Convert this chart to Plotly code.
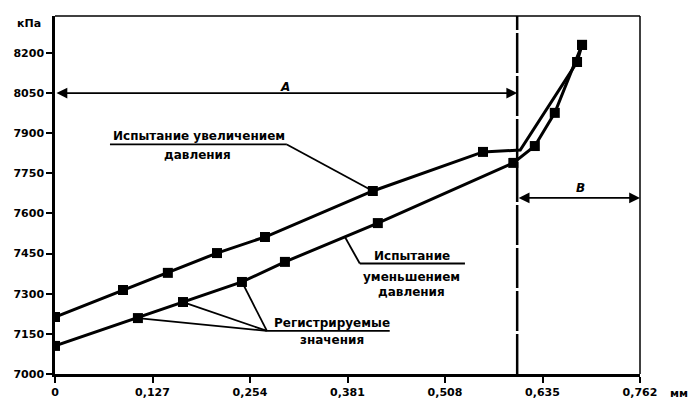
import plotly.graph_objects as go

# --- data ---
inc_x = [0.0, 0.0886, 0.147, 0.211, 0.2735, 0.414, 0.5575, 0.606, 0.680, 0.6865]
inc_y = [7213, 7314, 7378, 7452, 7512, 7684, 7830, 7837, 8166, 8230]
inc_marker = [True, True, True, True, True, True, True, False, True, True]

dec_x = [0.6865, 0.651, 0.625, 0.597, 0.4205, 0.2995, 0.2435, 0.1667, 0.108, 0.0]
dec_y = [8230, 7976, 7852, 7789, 7564, 7419, 7344, 7269, 7209, 7105]

x_ticks = [0, 0.127, 0.254, 0.381, 0.508, 0.635, 0.762]
x_labels = ["0", "0,127", "0,254", "0,381", "0,508", "0,635", "0,762"]
y_ticks = [7000, 7150, 7300, 7450, 7600, 7750, 7900, 8050, 8200]
y_labels = ["7000", "7150", "7300", "7450", "7600", "7750", "7900", "8050", "8200"]

zone_split = 0.602      # boundary between zones A and B, mm
x_max = 0.762
y_min, y_max = 7000, 8338

FONT = "DejaVu Sans, Liberation Sans, Arial, sans-serif"
BLACK = "#000000"

fig = go.Figure()

# lines
for xs, ys in [(inc_x, inc_y), (dec_x, dec_y)]:
    fig.add_trace(go.Scatter(x=xs, y=ys, mode="lines", line=dict(color=BLACK, width=3),
                             showlegend=False, hoverinfo="skip"))
# markers
mx = [x for x, m in zip(inc_x, inc_marker) if m] + dec_x
my = [y for y, m in zip(inc_y, inc_marker) if m] + dec_y
fig.add_trace(go.Scatter(x=mx, y=my, mode="markers",
                         marker=dict(symbol="square", size=10, color=BLACK, line=dict(width=0)),
                         showlegend=False, hoverinfo="skip"))

shapes = []
# top and right frame
shapes.append(dict(type="line", xref="paper", yref="paper", x0=0, x1=1, y0=1, y1=1,
                   line=dict(color=BLACK, width=1.5)))
shapes.append(dict(type="line", xref="paper", yref="paper", x0=1, x1=1, y0=0, y1=1,
                   line=dict(color=BLACK, width=1.5)))
# dashed zone boundary
shapes.append(dict(type="line", xref="x", yref="y", x0=zone_split, x1=zone_split, y0=y_min, y1=y_max,
                   line=dict(color=BLACK, width=2.5, dash="40px,3px")))

def seg(x0, y0, x1, y1, w=1.8):
    shapes.append(dict(type="line", xref="x", yref="y", x0=x0, y0=y0, x1=x1, y1=y1,
                       line=dict(color=BLACK, width=w)))

# label: increasing pressure
seg(0.0716, 7858, 0.302, 7858)
seg(0.302, 7858, inc_x[5], inc_y[5])
# label: decreasing pressure
seg(0.397, 7413, 0.534, 7413)
seg(0.397, 7413, 0.378, 7510)
# label: recorded values
seg(0.276, 7161, 0.436, 7161)
for i in (6, 7, 8):
    seg(0.276, 7161, dec_x[i], dec_y[i])

annotations = []

def txt(x, y, s, size=12, italic=False):
    annotations.append(dict(x=x, y=y, xref="x", yref="y", text=s, showarrow=False,
                            xanchor="center", yanchor="middle",
                            font=dict(family=FONT, size=size, color=BLACK,
                                      weight="bold", style="italic" if italic else "normal")))

txt(0.188, 7889, "Испытание увеличением")
txt(0.186, 7819, "давления")
txt(0.465, 7441, "Испытание")
txt(0.464, 7363, "уменьшением")
txt(0.465, 7307, "давления")
txt(0.361, 7192, "Регистрируемые")
txt(0.361, 7127, "значения")
txt(0.300, 8072, "А", size=12, italic=True)
txt(0.684, 7695, "В", size=12, italic=True)

# dimension arrows A and B
for (xa, xb, yv) in [(0.0, zone_split, 8050), (zone_split, x_max, 7658)]:
    annotations.append(dict(x=xb, y=yv, ax=xa, ay=yv, xref="x", yref="y", axref="x", ayref="y",
                            text="", showarrow=True, arrowhead=2, arrowside="end+start",
                            arrowsize=1.2, arrowwidth=1.8, arrowcolor=BLACK))

W, H = 688, 400
ML, MR, MT, MB = 55, 48, 16, 26

annotations.append(dict(x=0, y=1, xref="paper", yref="paper", text="кПа", showarrow=False,
                        xanchor="right", yanchor="middle", xshift=-12, yshift=-7,
                        font=dict(family=FONT, size=11, color=BLACK, weight="bold")))
annotations.append(dict(x=1, y=0, xref="paper", yref="paper", text="мм", showarrow=False,
                        xanchor="left", yanchor="top", xshift=28, yshift=-11,
                        font=dict(family=FONT, size=11, color=BLACK, weight="bold")))

fig.update_layout(
    width=W, height=H,
    margin=dict(l=ML, r=MR, t=MT, b=MB, pad=0),
    paper_bgcolor="white", plot_bgcolor="white",
    shapes=shapes, annotations=annotations,
    font=dict(family=FONT, size=11, color=BLACK, weight="bold"),
    xaxis=dict(range=[0, x_max], tickvals=x_ticks, ticktext=x_labels, automargin=False,
               showgrid=False, zeroline=False, showline=True, linecolor=BLACK, linewidth=2.5,
               ticks="outside", ticklen=6, tickwidth=2, tickcolor=BLACK,
               tickfont=dict(family=FONT, size=11, color=BLACK, weight="bold")),
    yaxis=dict(range=[y_min, y_max], tickvals=y_ticks, ticktext=y_labels, automargin=False,
               showgrid=False, zeroline=False, showline=True, linecolor=BLACK, linewidth=2.5,
               ticks="outside", ticklen=6, tickwidth=2, tickcolor=BLACK,
               tickfont=dict(family=FONT, size=11, color=BLACK, weight="bold")),
)

fig.write_html("out.html", config={"displayModeBar": False},
               post_script="document.body.style.margin='0';")
